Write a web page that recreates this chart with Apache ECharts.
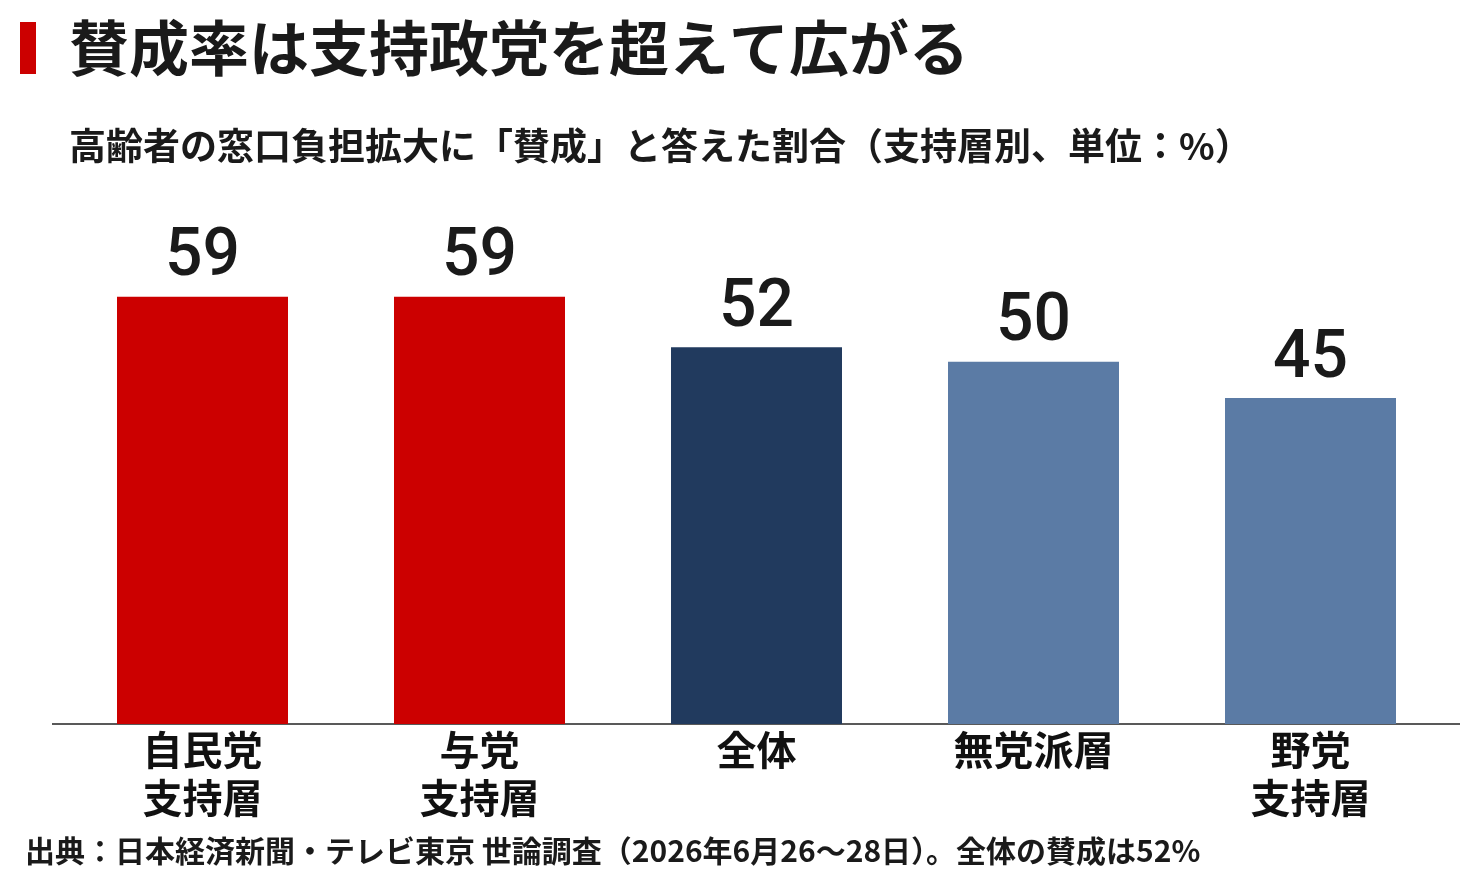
<!DOCTYPE html>
<html>
<head>
<meta charset="utf-8">
<script src="https://cdn.jsdelivr.net/npm/echarts@6/dist/echarts.min.js"></script>
<style>
  html, body { margin: 0; padding: 0; background: #fff; }
  #chart { width: 1480px; height: 890px; }
</style>
</head>
<body>
<div id="chart"></div>
<script>
// data
var categories = ['自民党\n支持層', '与党\n支持層', '全体', '無党派層', '野党\n支持層'];
var values = [59, 59, 52, 50, 45];
var barColors = ['#cc0000', '#cc0000', '#213a5e', '#5b7ba5', '#5b7ba5'];

var titleText = '賛成率は支持政党を超えて広がる';
var subText = '高齢者の窓口負担拡大に「賛成」と答えた割合（支持層別、単位：%）';
var noteText = '出典：日本経済新聞・テレビ東京 世論調査（2026年6月26～28日）。全体の賛成は52%';

var cjk = '"Noto Sans CJK JP", "Noto Sans", sans-serif';

var chart = echarts.init(document.getElementById('chart'));

chart.setOption({
    backgroundColor: '#fff',
    animation: false,
    title: [{
        text: titleText,
        left: 64, top: 8,
        textStyle: { fontFamily: cjk, fontSize: 60, fontWeight: 'bold', color: '#1a1a1a', lineHeight: 70 }
    }, {
        text: subText,
        left: 64, top: 118,
        textStyle: { fontFamily: cjk, fontSize: 37, fontWeight: 'bold', color: '#1a1a1a', lineHeight: 46 }
    }, {
        text: noteText,
        left: 20, top: 828,
        textStyle: { fontFamily: cjk, fontSize: 30, fontWeight: 'bold', color: '#1a1a1a', lineHeight: 36 }
    }],
    graphic: [{
        type: 'rect',
        shape: { x: 20, y: 22, width: 16, height: 52 },
        style: { fill: '#cc0000' }
    }, {
        type: 'line',
        shape: { x1: 52, y1: 724, x2: 1460, y2: 724 },
        style: { stroke: '#222', lineWidth: 1.5 }
    }],
    grid: { left: 64, right: 31, top: 217, bottom: 166 },
    xAxis: {
        type: 'category',
        data: categories,
        axisLine: { show: false },
        axisTick: { show: false },
        axisLabel: {
            fontFamily: cjk, fontSize: 40, fontWeight: 'bold', color: '#111',
            lineHeight: 48, margin: 2
        }
    },
    yAxis: {
        type: 'value',
        min: 0, max: 70,
        show: false,
        splitLine: { show: false }
    },
    series: [{
        type: 'bar',
        data: values.map(function (v, i) {
            return { value: v, itemStyle: { color: barColors[i] } };
        }),
        barWidth: 171,
        label: {
            show: true,
            position: 'top',
            distance: 5,
            fontFamily: 'Roboto, sans-serif',
            fontSize: 66,
            fontWeight: 500,
            color: '#1a1a1a'
        }
    }]
});
</script>
</body>
</html>
